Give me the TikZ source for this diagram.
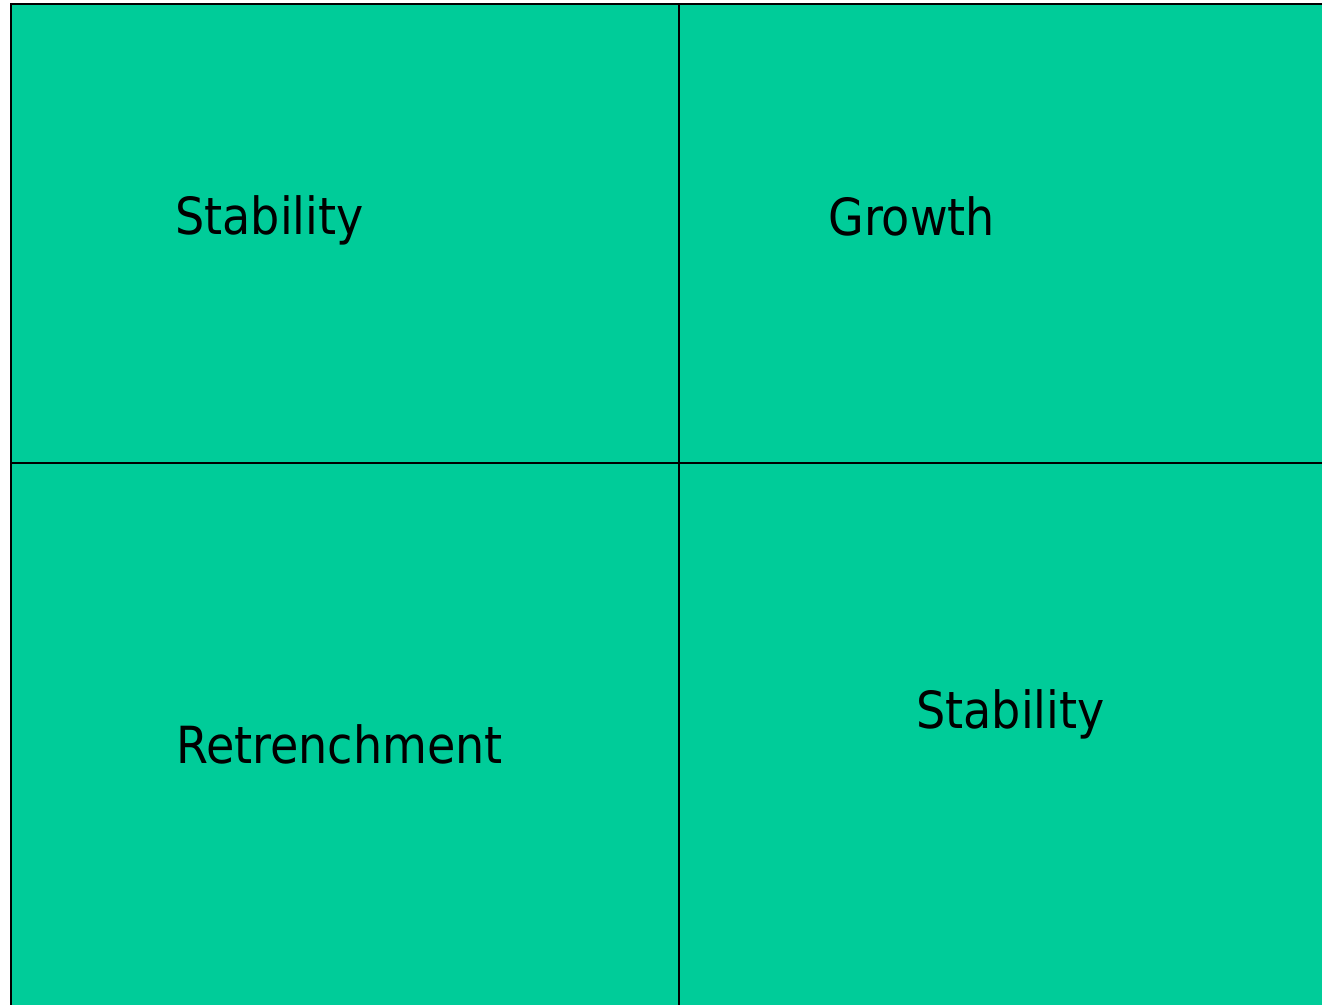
\documentclass[tikz,border=0pt]{standalone}
\usepackage{fontspec}
\setmainfont{DejaVu Sans Condensed}
\usetikzlibrary{positioning}

\definecolor{cellgreen}{HTML}{00CC99}

\begin{document}
\begin{tikzpicture}[x=0.5pt, y=-0.5pt]
      \tikzset{
        cell/.style = {
          draw=black,
          fill=cellgreen,
          line width=1.2pt
        },
        label/.style = {
          anchor=base west,
          inner sep=0pt,
          font=\fontsize{25.6pt}{30pt}\selectfont
        }
      }

      \useasboundingbox (0,0) rectangle (1322,1005);
      \clip (0,0) rectangle (1322,1005);

      % the four quadrants
      \draw[cell] (11,4) rectangle (679,463);
      \draw[cell] (679,4) rectangle (1340,463);
      \draw[cell] (11,463) rectangle (679,1020);
      \draw[cell] (679,463) rectangle (1340,1020);

      \node[label] (stability top) at (175,235) {Stability};
      \node[label] (growth) at (828,236) {Growth};
      \node[label] (retrenchment) at (176,763) {Retrenchment};
      \node[label] (stability bottom) at (916,728) {Stability};
    \end{tikzpicture}
\end{document}
